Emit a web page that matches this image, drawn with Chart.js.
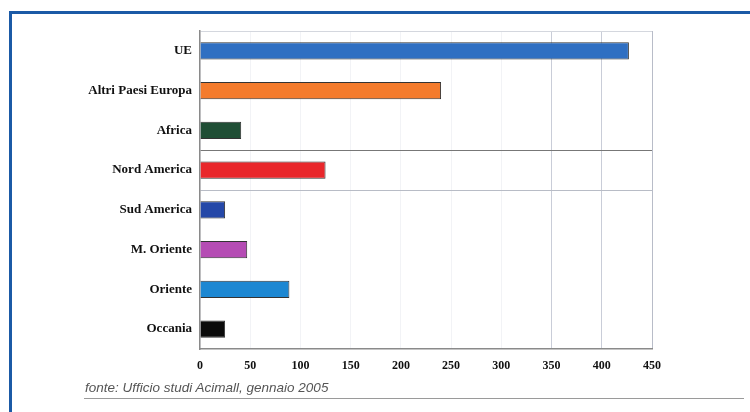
<!DOCTYPE html>
<html>
<head>
<meta charset="utf-8">
<script src="https://cdn.jsdelivr.net/npm/chart.js@4.4.0/dist/chart.umd.min.js"></script>
<style>
  html, body { margin: 0; padding: 0; background: #fff; }
  #wrap { position: relative; width: 750px; height: 412px; overflow: hidden; }
  #frame {
    position: absolute; left: 9px; top: 11px; width: 760px; height: 420px;
    border-left: 3px solid #1b5aa6; border-top: 3px solid #1b5aa6;
  }
  #source {
    position: absolute; left: 85px; top: 380px;
    font: italic 13.5px "Liberation Sans", Arial, sans-serif; color: #555;
  }
  #rule { position: absolute; left: 84px; top: 398px; width: 660px; height: 1px; background: #9a9a9a; }
  canvas { position: absolute; left: 0; top: 0; }
</style>
</head>
<body>
<div id="wrap">
  <div id="frame"></div>
  <canvas id="chart" width="750" height="412"></canvas>
  <div id="source">fonte: Ufficio studi Acimall, gennaio 2005</div>
  <div id="rule"></div>
</div>
<script>
// data
const regions = ['UE', 'Altri Paesi Europa', 'Africa', 'Nord America', 'Sud America', 'M. Oriente', 'Oriente', 'Occania'];
const values = [427, 240, 41, 125, 25, 47, 89, 25];
const barColors = ['#2f6fc2', '#f47b2c', '#1f4e35', '#e9272b', '#2548a8', '#b54cb4', '#1c87d2', '#0b0b0b'];
const xTicks = [0, 50, 100, 150, 200, 250, 300, 350, 400, 450];

const serif = '"Liberation Serif", "Times New Roman", serif';

const ctx = document.getElementById('chart').getContext('2d');
new Chart(ctx, {
    type: 'bar',
    data: {
        labels: regions,
        datasets: [{
            data: values,
            backgroundColor: barColors,
            borderColor: '#333',
            borderWidth: 1,
            categoryPercentage: 1,
            barPercentage: 0.44
        }]
    },
    options: {
        indexAxis: 'y',
        responsive: false,
        animation: false,
        layout: { padding: { top: 31, right: 98, left: 0, bottom: 0 } },
        plugins: {
            legend: { display: false },
            tooltip: { enabled: false }
        },
        scales: {
            x: {
                min: 0,
                max: 450,
                afterBuildTicks: scale => { scale.ticks = xTicks.map(v => ({ value: v })); },
                afterFit: scale => { scale.height = 63; },
                ticks: { color: '#111', font: { family: serif, size: 12, weight: 'bold' }, padding: 10, maxRotation: 0 },
                grid: {
                    drawTicks: false,
                    color: c => (c.tick && (c.tick.value === 350 || c.tick.value === 400)) ? '#c9cdd8'
                        : (c.tick && c.tick.value === 450 ? '#b8bcc8' : '#f2f3f6')
                },
                border: { color: '#8a8a8a', width: 1.5 }
            },
            y: {
                afterFit: scale => { scale.width = 200; },
                ticks: { color: '#111', font: { family: serif, size: 13, weight: 'bold' }, padding: 8 },
                grid: {
                    drawTicks: false,
                    offset: true,
                    color: c => {
                        if (c.index === 0) return '#d4d7de';
                        if (c.index === 3) return '#777';
                        if (c.index === 4) return '#b8bcc6';
                        return 'rgba(0,0,0,0)';
                    }
                },
                border: { color: '#8a8a8a', width: 1.5 }
            }
        }
    }
});
</script>
</body>
</html>
